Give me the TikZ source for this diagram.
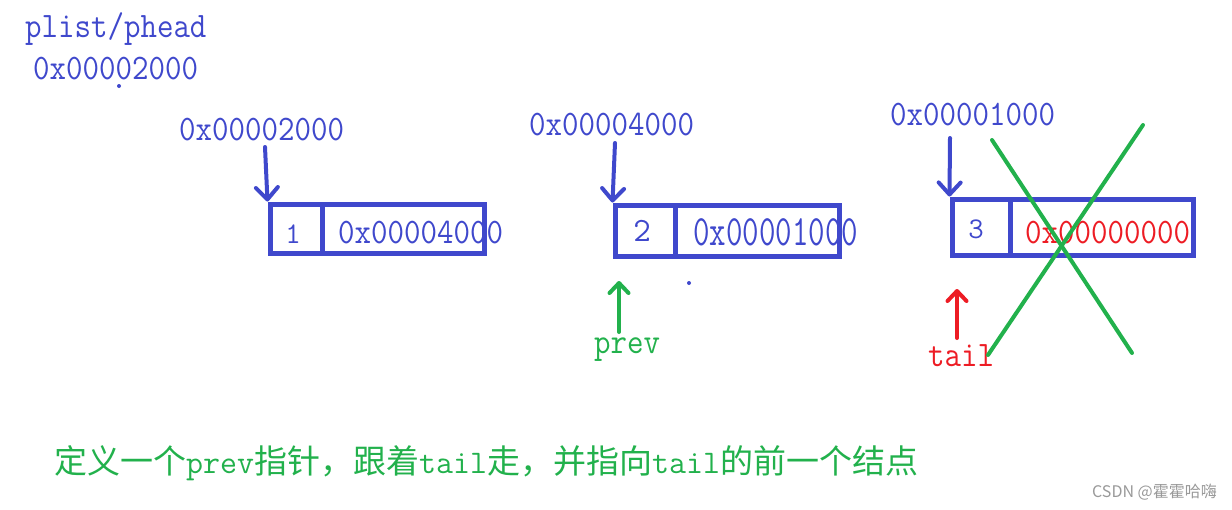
\documentclass[tikz,border=0pt]{standalone}
\usepackage{fontspec}
\newfontfamily\cjk{Noto Sans CJK SC}
\usetikzlibrary{arrows.meta}
\definecolor{pblue}{RGB}{63,72,204}
\definecolor{pgreen}{RGB}{34,177,76}
\definecolor{pred}{RGB}{237,28,36}
\newcommand{\tallx}[1]{\scalebox{1}[1.12]{#1}}
\begin{document}
\begin{tikzpicture}[x=1pt,y=-1pt,
  txt/.style={inner sep=0pt, anchor=base west, font=\ttfamily\fontsize{32}{38}\selectfont, text=pblue},
  num/.style={inner sep=0pt, anchor=base, font=\ttfamily\fontsize{30}{36}\selectfont, text=pblue},
  cell/.style={draw=pblue, line width=5pt, inner sep=0pt},
  ptr/.style={line width=4pt, line cap=round, -{Straight Barb[round,length=12pt,width=22pt]}},
  xline/.style={draw=pgreen, line width=4pt, line cap=round}]
\useasboundingbox (0,0) rectangle (1232,509);
% head pointer
\node[txt] (plist) at (25,37) {\tallx{plist/phead}};
\node[txt] (paddr) at (33,79) {\tallx{0x00002000}};
\fill[pblue] (119,86) circle (2);
% node 1
\node[txt] (l1) at (179,140) {\tallx{0x00002000}};
\node[cell, minimum width=52pt, minimum height=49pt] (d1) at (296,228.5) {};
\node[cell, minimum width=162pt, minimum height=49pt] (n1) at (403,228.5) {};
\node[num] (v1) at (293,243) {1};
\node[txt] (a1) at (338,243) {\tallx{0x00004000}};
\coordinate (s1) at (265,147);
\draw[ptr, draw=pblue] (s1) -- (d1.north west);
% node 2
\node[txt] (l2) at (529,135) {\tallx{0x00004000}};
\node[cell, minimum width=60pt, minimum height=51pt] (d2) at (645,230.5) {};
\node[cell, minimum width=164pt, minimum height=51pt] (n2) at (757,230.5) {};
\node[num, font=\ttfamily\fontsize{34}{40}\selectfont] (v2) at (642,241) {2};
\node[txt] (a2) at (693,245) {\scalebox{1}[1.35]{0x00001000}};
\coordinate (s2) at (615,143);
\draw[ptr, draw=pblue] (s2) -- (d2.north west);
\fill[pblue] (689,283) circle (2);
% node 3
\node[txt] (l3) at (890,125) {\tallx{0x00001000}};
\node[cell, minimum width=58pt, minimum height=56pt] (d3) at (981,227) {};
\node[cell, minimum width=183pt, minimum height=56pt] (n3) at (1101.5,227) {};
\node[num] (v3) at (976,238) {3};
\node[txt, text=pred] (a3) at (1025,243) {\tallx{0x00000000}};
\coordinate (s3) at (950,138);
\draw[ptr, draw=pblue] (s3) -- (d3.north west);
% prev
\node[txt, text=pgreen] (prev) at (594,353) {\tallx{prev}};
\coordinate (ps) at (619,332);
\coordinate (pe) at (619,281);
\draw[ptr, draw=pgreen, -{Straight Barb[round,length=10pt,width=19pt]}] (ps) -- (pe);
% tail
\node[txt, text=pred] (tail) at (928,366) {\tallx{tail}};
\coordinate (ts) at (957,338);
\coordinate (te) at (957,289);
\draw[ptr, draw=pred, -{Straight Barb[round,length=10pt,width=19pt]}] (ts) -- (te);
% cross
\coordinate (x1) at (992,140);
\coordinate (x2) at (1132,353);
\coordinate (x3) at (1143,125);
\coordinate (x4) at (988,355);
\draw[xline] (x1) -- (x2);
\draw[xline] (x3) -- (x4);
% caption
\node[inner sep=0pt, anchor=base west, text=pgreen, font=\fontsize{33}{40}\selectfont] (cap) at (54,473)
  {\cjk 定义一个{\ttfamily prev}指针，跟着{\ttfamily tail}走，并指向{\ttfamily tail}的前一个结点};
\node[inner sep=0pt, anchor=base east, text=black!40, font=\cjk\fontsize{16}{19}\selectfont] (wm) at (1217,497) {CSDN @霍霍哈嗨};
\end{tikzpicture}
\end{document}
